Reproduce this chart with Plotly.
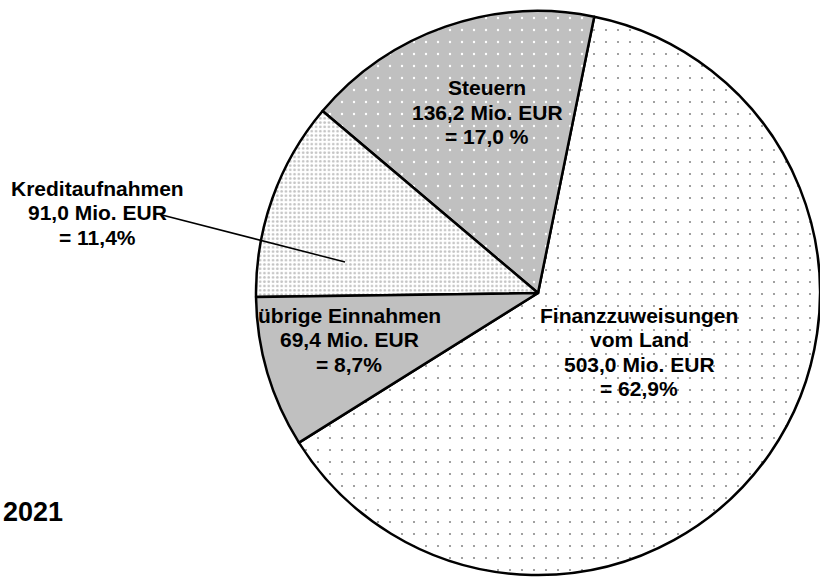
import plotly.graph_objects as go

# ---- data ----
categories = ["Finanzzuweisungen vom Land", "Steuern", "Kreditaufnahmen", "übrige Einnahmen"]
values = [503.0, 136.2, 91.0, 69.4]
name_lines = [["Finanzzuweisungen", "vom Land"], ["Steuern"], ["Kreditaufnahmen"], ["übrige Einnahmen"]]
amount_labels = ["503,0 Mio. EUR", "136,2 Mio. EUR", "91,0 Mio. EUR", "69,4 Mio. EUR"]
share_labels = ["= 62,9%", "= 17,0 %", "= 11,4%", "= 8,7%"]
year_label = "2021"

# ---- layout helpers (pixel -> paper) ----
W, H = 820, 580
def px(x):
    return x / W
def py(y):
    return 1 - y / H

FONT = "Liberation Sans, Arial, sans-serif"
FS = 21
LINE = 24.5

patterns = [
    dict(shape=".", size=12, solidity=0.025, fgcolor="#8a8a8a", bgcolor="#ffffff"),
    dict(shape=".", size=12, solidity=0.03, fgcolor="#ffffff", bgcolor="#c0c0c0"),
    dict(shape=".", size=4.3, solidity=0.3, fgcolor="#c4c4c4", bgcolor="#ffffff"),
    dict(shape="", size=8, solidity=0.3, fgcolor="#c0c0c0", bgcolor="#c0c0c0"),
]
colors = ["#ffffff", "#c0c0c0", "#ffffff", "#c0c0c0"]

fig = go.Figure(go.Pie(
    labels=categories,
    values=values,
    sort=False,
    direction="counterclockwise",
    rotation=11.5,
    textinfo="none",
    hoverinfo="label+value+percent",
    marker=dict(colors=colors, line=dict(color="#000000", width=2.5),
                pattern=dict(
                    shape=[p["shape"] for p in patterns],
                    size=[p["size"] for p in patterns],
                    solidity=[p["solidity"] for p in patterns],
                    fgcolor=[p["fgcolor"] for p in patterns],
                    bgcolor=[p["bgcolor"] for p in patterns],
                    fillmode="replace",
                )),
    domain=dict(x=[256 / W, 1.0], y=[py(577), py(9)]),
    showlegend=False,
))

# label anchor positions: (center x, first line center y) in pixels
label_pos = [(639, 315), (487, 88), (97, 188), (349, 315)]

annotations = []
for i, (cx, cy) in enumerate(label_pos):
    lines = name_lines[i] + [amount_labels[i], share_labels[i]]
    for k, t in enumerate(lines):
        annotations.append(dict(
            x=px(cx), y=py(cy + k * LINE), xref="paper", yref="paper",
            text="<b>" + t + "</b>", showarrow=False,
            xanchor="center", yanchor="middle",
            font=dict(family=FONT, size=FS, color="#000000"),
        ))

annotations.append(dict(
    x=px(65), y=py(512), xref="paper", yref="paper",
    text="<b>" + year_label + "</b>", showarrow=False,
    xanchor="right", yanchor="middle",
    font=dict(family=FONT, size=27, color="#000000"),
))

fig.update_layout(
    width=W, height=H,
    margin=dict(l=0, r=0, t=0, b=0),
    paper_bgcolor="#ffffff",
    plot_bgcolor="#ffffff",
    annotations=annotations,
    shapes=[dict(type="line", xref="paper", yref="paper",
                 x0=px(162), y0=py(215), x1=px(345), y1=py(262),
                 line=dict(color="#000000", width=1.5))],
)

fig.write_html("out.html",
               config={"displayModeBar": False},
               post_script="document.body.style.margin='0';document.body.style.overflow='hidden';")
